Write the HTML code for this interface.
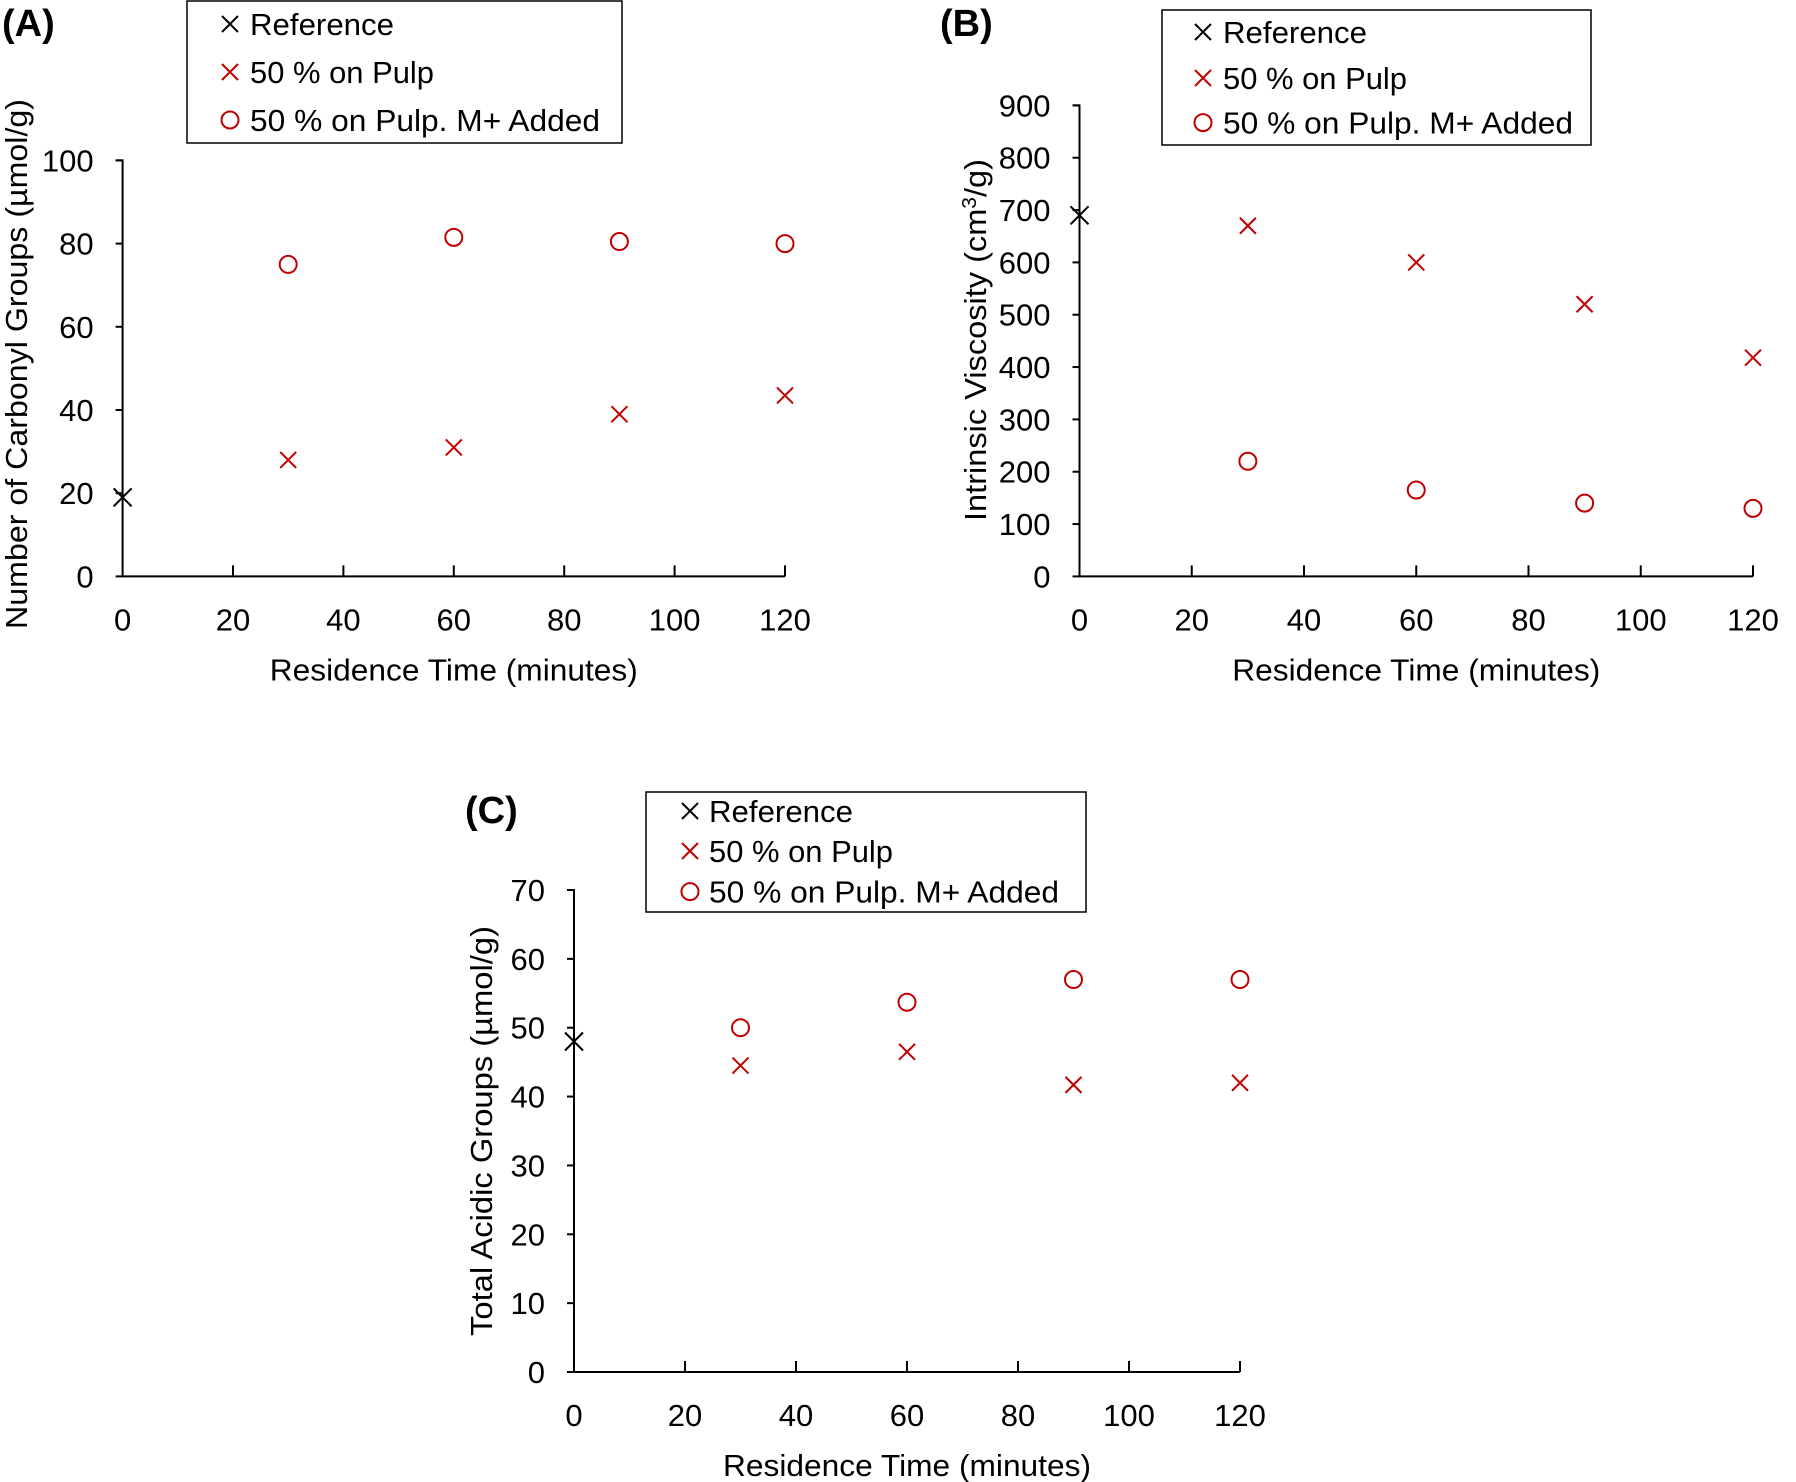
<!DOCTYPE html>
<html><head><meta charset="utf-8"><style>
html,body{margin:0;padding:0;background:#fff;}
svg{display:block;font-family:"Liberation Sans",sans-serif;}
</style></head><body>
<svg id="fig" width="1796" height="1482" viewBox="0 0 1796 1482"></svg>
<script>
const xTicks = [0,20,40,60,80,100,120];
const times = [30,60,90,120];
const refA = 19, pulpA = [28,31,39,43.5], mA = [75,81.5,80.5,80];
const refB = 690, pulpB = [670,600,520,418], mB = [220,165,140,130];
const refC = 48, pulpC = [44.5,46.5,41.7,42], mC = [50,53.7,57,57];
const yTicksA = [0,20,40,60,80,100];
const yTicksB = [0,100,200,300,400,500,600,700,800,900];
const yTicksC = [0,10,20,30,40,50,60,70];
const legendLabels = ["Reference","50 % on Pulp","50 % on Pulp. M+ Added"];
const legendLens = [144,184,350];

const NS="http://www.w3.org/2000/svg";
const svg=document.getElementById('fig');
const RED="#c00000";
function el(tag,attrs,parent,text){const e=document.createElementNS(NS,tag);for(const k in attrs)e.setAttribute(k,attrs[k]);if(text!==undefined)e.textContent=text;(parent||svg).appendChild(e);return e;}
function cross(g,x,y,c,s){el('path',{d:`M${x-s} ${y-s}L${x+s} ${y+s}M${x-s} ${y+s}L${x+s} ${y-s}`,stroke:c,'stroke-width':2,fill:'none'},g);}
function circ(g,x,y){el('circle',{cx:x,cy:y,r:8.5,stroke:RED,'stroke-width':2,fill:'none'},g);}

function panel(o){
  const g=el('g',{});
  
  
  const X=v=>o.x0+(v-0)/120*(o.x1-o.x0);
  const Y=v=>o.yb-(v-0)/o.ymax*(o.yb-o.yt);
  const ax=el('path',{d:`M${o.x0-7} ${o.yt}H${o.x0}V${o.yb}H${o.x1}`,stroke:'#000','stroke-width':2,fill:'none'},g);
  
  
  o.yTicks.forEach(t=>{
    el('path',{d:`M${o.x0-7} ${Y(t)}H${o.x0}`,stroke:'#000','stroke-width':2},g);
    const tx=el('text',{x:o.x0-29,y:Y(t)+11,'font-size':31,'text-anchor':'end',fill:'#000'},g,t);
    
    
  });
  xTicks.forEach(t=>{
    if(t>0) el('path',{d:`M${X(t)} ${o.yb}V${o.yb-11}`,stroke:'#000','stroke-width':2},g);
    const tx=el('text',{x:X(t),y:o.yb+54,'font-size':31,'text-anchor':'middle',fill:'#000'},g,t);
    
    
  });
  const xt=el('text',{x:(o.x0+o.x1)/2,y:o.yb+104,'font-size':31,'text-anchor':'middle',textLength:368,lengthAdjust:'spacingAndGlyphs'},g,'Residence Time (minutes)');
  
  
  const yt=el('text',{x:0,y:0,'font-size':31,'text-anchor':'middle',textLength:o.ytLen,lengthAdjust:'spacingAndGlyphs',transform:`translate(${o.ytx},${o.yty}) rotate(-90)`},g);
  yt.innerHTML=o.ytitle;
  
  
  const lb=el('text',{x:o.lx,y:o.ly,'font-size':38,'font-weight':'bold'},g,o.label);
  
  
  const r=el('g',{},g);
  
  
  cross(r,X(0),Y(o.ref),'#000',9);
  o.pulp.forEach((v,i)=>{const p=el('g',{},g);
    
    
    cross(p,X(times[i]),Y(v),RED,8);});
  o.m.forEach((v,i)=>{const p=el('g',{},g);
    
    
    circ(p,X(times[i]),Y(v));});
  const L=el('g',{},g);
  
  
  el('rect',{x:o.bx,y:o.by,width:o.bw,height:o.bh,fill:'#fff',stroke:'#000','stroke-width':1.5},L);
  legendLabels.forEach((s,i)=>{
    const e=el('g',{},L);
    
    
    const cy=o.rows[i];
    if(i===0)cross(e,o.mx,cy,'#000',8);else if(i===1)cross(e,o.mx,cy,RED,8);else circ(e,o.mx,cy);
    el('text',{x:o.tx,y:cy+11,'font-size':31,textLength:legendLens[i],lengthAdjust:'spacingAndGlyphs'},e,s);
  });
}
panel({name:'panel-a',x0:122.6,x1:785,yt:160.4,yb:576.4,ymax:100,yTicks:yTicksA,ref:refA,pulp:pulpA,m:mA,
  ytitle:'Number of Carbonyl Groups (µmol/g)',ytx:27,yty:364,ytLen:530,label:'(A)',lx:2,ly:36,
  bx:187,by:1,bw:435,bh:142,rows:[24,72,120],mx:230,tx:250});
panel({name:'panel-b',x0:1079.5,x1:1753,yt:105.4,yb:576.4,ymax:900,yTicks:yTicksB,ref:refB,pulp:pulpB,m:mB,
  ytitle:'Intrinsic Viscosity (cm<tspan dy="-10" font-size="20">3</tspan><tspan dy="10">/g)</tspan>',ytx:986,yty:340,ytLen:362,label:'(B)',lx:940,ly:36,
  bx:1162,by:10,bw:429,bh:135,rows:[32,78,122.6],mx:1203,tx:1223});
panel({name:'panel-c',x0:574,x1:1240,yt:890,yb:1372,ymax:70,yTicks:yTicksC,ref:refC,pulp:pulpC,m:mC,
  ytitle:'Total Acidic Groups (µmol/g)',ytx:492,yty:1131,ytLen:410,label:'(C)',lx:465,ly:823,
  bx:646,by:792,bw:440,bh:120,rows:[811,851,891.6],mx:690,tx:709});
</script>
</body></html>
